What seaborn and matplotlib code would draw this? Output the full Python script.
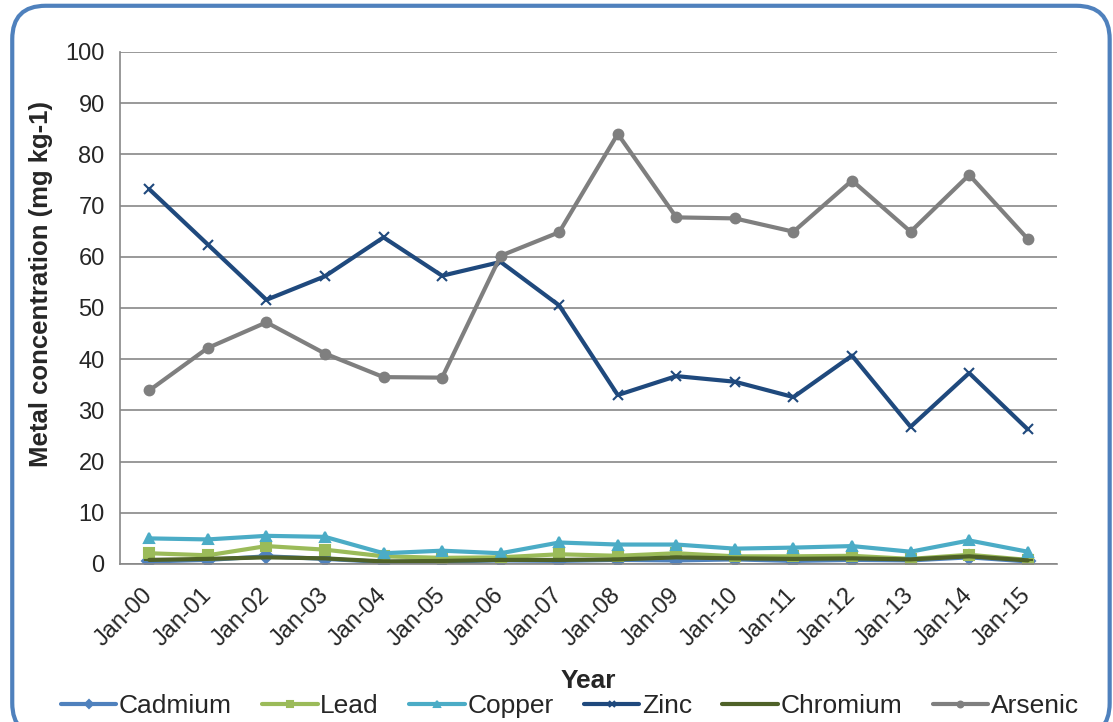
import pandas as pd
import matplotlib.pyplot as plt
import seaborn as sns
from matplotlib.patches import FancyBboxPatch

# Dados
years = ['Jan-00', 'Jan-01', 'Jan-02', 'Jan-03', 'Jan-04', 'Jan-05', 'Jan-06', 'Jan-07',
         'Jan-08', 'Jan-09', 'Jan-10', 'Jan-11', 'Jan-12', 'Jan-13', 'Jan-14', 'Jan-15']
cadmium = [0.5, 0.8, 1.5, 1.0, 0.4, 0.5, 0.7, 0.6, 0.8, 0.7, 0.9, 0.6, 0.8, 0.7, 1.3, 0.5]
lead = [2.1, 1.7, 3.5, 2.8, 1.5, 1.2, 1.3, 1.9, 1.6, 2.1, 1.5, 1.5, 1.6, 1.0, 1.8, 0.8]
copper = [5.0, 4.8, 5.5, 5.3, 2.1, 2.6, 2.1, 4.2, 3.8, 3.8, 3.0, 3.2, 3.5, 2.4, 4.6, 2.4]
zinc = [73.2, 62.4, 51.6, 56.2, 63.8, 56.3, 59.0, 50.5, 33.0, 36.7, 35.6, 32.6, 40.7, 26.8, 37.3, 26.3]
chromium = [0.8, 1.0, 1.3, 1.1, 0.5, 0.6, 0.8, 0.8, 0.9, 1.3, 1.1, 1.0, 1.1, 0.9, 1.5, 0.7]
arsenic = [33.9, 42.2, 47.2, 41.1, 36.5, 36.4, 60.2, 64.8, 84.0, 67.7, 67.5, 64.9, 74.9, 64.9, 76.0, 63.5]

metals = ['Cadmium', 'Lead', 'Copper', 'Zinc', 'Chromium', 'Arsenic']
series = [cadmium, lead, copper, zinc, chromium, arsenic]
cores = ['#4F81BD', '#9BBB59', '#4BACC6', '#1F497D', '#4F6228', '#7F7F7F']
marcadores = ['D', 's', '^', 'x', '_', 'o']

df = pd.DataFrame({'Year': years * len(metals),
                   'value': sum(series, []),
                   'metal': sum([[m] * len(years) for m in metals], [])})

sns.set_style('white')
plt.rcParams['font.family'] = ['Liberation Sans', 'DejaVu Sans']

fig = plt.figure(figsize=(11.13, 7.22), dpi=100)
ax = fig.add_axes([120 / 1113, 1 - 564 / 722, 937 / 1113, 512 / 722])

for m, c, mk in zip(metals, cores, marcadores):
    sns.lineplot(data=df[df['metal'] == m], x='Year', y='value', ax=ax, color=c,
                 linewidth=3, marker=mk, markersize=7, markeredgecolor=c,
                 markeredgewidth=1.5, label=m, sort=False)

ax.set_xlim(-0.5, len(years) - 0.5)
ax.set_ylim(0, 100)
ax.set_yticks(range(0, 101, 10))
ax.yaxis.grid(True, color='#878787', linewidth=1.2)
ax.set_axisbelow(True)
for s in ['top', 'right']:
    ax.spines[s].set_visible(False)
for s in ['left', 'bottom']:
    ax.spines[s].set_color('#878787')
    ax.spines[s].set_linewidth(1.2)
ax.tick_params(axis='y', labelsize=17, length=0, pad=11)
ax.tick_params(axis='x', labelsize=17, length=0, pad=20)
plt.setp(ax.get_xticklabels(), rotation=45, ha='right', va='center', rotation_mode='anchor')

ax.set_xlabel('Year', fontsize=19, fontweight='bold')
ax.xaxis.set_label_coords(0.5, -0.205)
ax.set_ylabel('Metal concentration (mg kg-1)', fontsize=18.5, fontweight='bold')
ax.yaxis.set_label_coords(-0.072, 0.547)

leg = ax.legend(loc='center', bbox_to_anchor=(0.512, 1 - 706 / 722), bbox_transform=fig.transFigure,
                ncol=6, frameon=False, fontsize=19, handlelength=2.1, handletextpad=0.1,
                columnspacing=1.15, markerscale=0.6, borderpad=0)

# Moldura arredondada
moldura = FancyBboxPatch((0.011, -0.02), 0.986, 1.012, transform=fig.transFigure,
                         boxstyle='round,pad=0,rounding_size=0.03',
                         facecolor='none', edgecolor='#4F81BD', linewidth=3,
                         mutation_aspect=1113 / 722)
fig.patches.append(moldura)

fig.savefig('out.png', dpi=100)
